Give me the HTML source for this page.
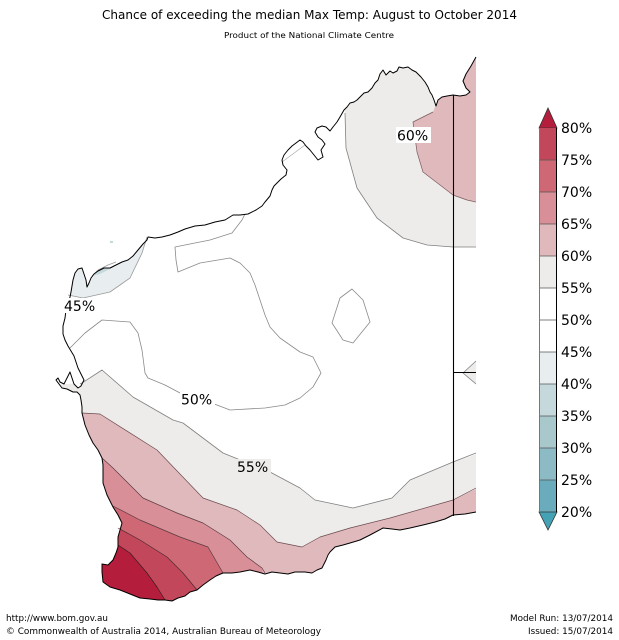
<!DOCTYPE html>
<html><head><meta charset="utf-8"><style>
html,body{margin:0;padding:0;background:#fff;}
svg{display:block;}
text{font-family:"DejaVu Sans","Liberation Sans",sans-serif;fill:#000;}
</style></head><body>
<svg width="619" height="640" viewBox="0 0 619 640" xmlns="http://www.w3.org/2000/svg">
<defs>
<clipPath id="land"><path d="M476,57 L471,66 L466,74 L463,81 L466,88 L470,92 L466,95 L460,96 L453,95 L447,96 L442,97 L438,100 L436,106 L434,100 L432,95 L430,92 L428,87 L425,82 L421,77 L416,72 L412,70 L408,67 L403,68 L399,67 L397,71 L393,73 L390,71 L386,75 L383,70 L380,74 L378,80 L375,83 L372,88 L368,92 L364,93 L360,97 L357,100 L354,102 L350,103 L347,107 L344,110 L340,117 L337,122 L333,127 L330,131 L326,127 L322,126 L317,128 L315,132 L318,137 L322,140 L325,144 L321,150 L323,157 L318,160 L314,155 L310,150 L306,146 L303,142 L300,140 L296,143 L292,146 L288,150 L284,155 L282,160 L283,165 L287,170 L286,175 L281,179 L277,183 L274,186 L272,190 L270,196 L265,202 L262,206 L256,210 L248,214 L240,215 L233,215 L225,220 L215,222 L205,225 L195,226 L185,229 L178,232 L170,235 L162,237 L155,238 L148,237 L147,240 L143,244 L138,250 L133,256 L128,260 L122,262 L116,265 L110,268 L104,268 L98,271 L94,274 L91,278 L89,283 L87,287 L86,280 L84,274 L82,268 L78,269 L75,273 L73,280 L72,286 L71,292 L70,297 L68,304 L66,310 L65,318 L63,326 L63,334 L65,340 L68,346 L71,351 L74,356 L76,362 L78,368 L81,374 L84,380 L81,386 L78,388 L74,384 L72,378 L70,372 L67,378 L64,384 L60,382 L58,378 L56,380 L62,388 L67,389 L73,392 L77,392 L80,395 L81,400 L82,407 L82,413 L85,425 L89,435 L93,443 L98,450 L102,458 L103,465 L103,475 L103,483 L107,495 L113,507 L118,515 L122,523 L120,530 L118,537 L118,547 L116,553 L113,560 L108,565 L102,564 L102,572 L103,582 L110,587 L120,590 L130,594 L140,598 L150,599 L158,600 L165,600 L172,601 L178,598 L185,596 L190,592 L197,590 L203,585 L210,580 L216,576 L223,573 L232,573 L240,572 L250,570 L258,572 L265,574 L272,572 L280,573 L288,574 L295,572 L305,572 L312,573 L317,570 L322,568 L326,560 L328,555 L330,552 L335,547 L343,545 L350,543 L360,540 L370,535 L383,528 L392,529 L400,530 L410,528 L423,525 L435,522 L445,519 L453,515 L465,514 L476,512 Z"/></clipPath>
</defs>

<!-- fills clipped to land -->
<g clip-path="url(#land)" stroke="none">
  <path fill="#eeecea" d="M345,40 L345,113 L346,148 L357,188 L377,218 L403,238 L427,245 L453,247 L480,247 L480,40 Z"/>
  <path fill="#e0b9bd" d="M438,40 L438,100 L433,112 L413,122 L417,152 L423,172 L440,185 L453,195 L467,200 L480,202 L480,40 Z"/>
  <path fill="#eeecea" d="M50,385 L82,383 L102,370 L133,397 L173,420 L183,423 L223,453 L270,472 L300,488 L315,500 L353,508 L392,498 L410,480 L453,462 L480,453 L480,620 L50,620 Z"/>
  <path fill="#eeecea" d="M463,373 L480,358 L480,388 Z"/>
  <path fill="#e0b9bd" d="M50,413 L82,413 L100,414 L157,450 L203,498 L237,510 L260,525 L277,542 L302,547 L320,537 L350,528 L390,518 L453,500 L480,487 L480,620 L50,620 Z"/>
  <path fill="#d88f97" d="M50,458 L102,458 L113,468 L143,498 L177,513 L203,523 L230,540 L247,557 L262,568 L270,620 L50,620 Z"/>
  <path fill="#cd6874" d="M50,506 L113,506 L140,520 L180,537 L208,547 L223,573 L230,620 L50,620 Z"/>
  <path fill="#c3475a" d="M50,528 L118,528 L140,540 L167,557 L183,573 L197,590 L200,620 L50,620 Z"/>
  <path fill="#b41e3c" d="M50,545 L118,545 L130,553 L147,573 L157,587 L165,600 L166,620 L50,620 Z"/>
  <path fill="#e8eef0" d="M50,250 L150,200 L147,237 L142,253 L130,278 L110,292 L83,298 L68,295 L50,295 Z"/>
  <path fill="#c5d9dc" d="M92,276 L98,270 L108,265 L116,262 L122,261 L112,268 L100,274 Z"/>
</g>

<!-- contour lines -->
<g fill="none" stroke-linejoin="round">
  <polyline stroke="#808080" stroke-width="0.8" points="345,113 346,148 357,188 377,218 403,238 427,245 453,247 476,247"/>
  <polyline stroke="#7a5a5e" stroke-width="0.7" points="433,112 413,122 417,152 423,172 440,185 453,195 467,200 476,202"/>
  <polyline stroke="#808080" stroke-width="0.8" points="80,384 82,383 102,370 133,397 173,420 183,423 223,453 270,472 300,488 315,500 353,508 392,498 410,480 453,462 476,453"/>
  <polyline stroke="#808080" stroke-width="0.8" points="476,361 463,373 476,384"/>
  <polyline stroke="#6a4a4e" stroke-width="0.7" points="82,413 100,414 157,450 203,498 237,510 260,525 277,542 302,547 320,537 350,528 390,518 453,500 476,488"/>
  <polyline stroke="#5a3a40" stroke-width="0.7" points="102,458 113,468 143,498 177,513 203,523 230,540 247,557 262,568 265,573"/>
  <polyline stroke="#5a3a40" stroke-width="0.7" points="113,506 140,520 180,537 208,547 223,573"/>
  <polyline stroke="#4a2a30" stroke-width="0.7" points="118,528 140,540 167,557 183,573 197,590"/>
  <polyline stroke="#3a1a20" stroke-width="0.7" points="118,545 130,553 147,573 157,587 165,600"/>
  <polyline stroke="#999" stroke-width="0.8" points="147,237 142,253 130,278 110,292 83,298 68,295"/>
  <polyline stroke="#999" stroke-width="0.7" points="92,276 98,270 108,265 116,262"/>
  <polyline stroke="#8a8a8a" stroke-width="0.8" points="245,214 242,220 232,233 210,240 175,247 176,260 178,272 200,263 230,258 240,263 250,273 255,285 260,300 265,315 270,327 280,338 300,352 313,357 321,373 313,387 300,398 285,405 265,408 230,410 217,405 180,393 165,385 148,378 145,373 142,350 138,333 130,322 102,320 85,333 70,348"/>
  <path stroke="#8a8a8a" stroke-width="0.8" d="M352,289 L363,300 L370,322 L353,343 L343,340 L332,323 L340,298 Z"/>
  <line x1="282" y1="162" x2="305" y2="145" stroke="#aaa" stroke-width="0.7"/>
</g>

<!-- coastline (open path, no right edge) -->
<path fill="none" stroke="#000" stroke-width="1" stroke-linejoin="round" d="M476,57 L471,66 L466,74 L463,81 L466,88 L470,92 L466,95 L460,96 L453,95 L447,96 L442,97 L438,100 L436,106 L434,100 L432,95 L430,92 L428,87 L425,82 L421,77 L416,72 L412,70 L408,67 L403,68 L399,67 L397,71 L393,73 L390,71 L386,75 L383,70 L380,74 L378,80 L375,83 L372,88 L368,92 L364,93 L360,97 L357,100 L354,102 L350,103 L347,107 L344,110 L340,117 L337,122 L333,127 L330,131 L326,127 L322,126 L317,128 L315,132 L318,137 L322,140 L325,144 L321,150 L323,157 L318,160 L314,155 L310,150 L306,146 L303,142 L300,140 L296,143 L292,146 L288,150 L284,155 L282,160 L283,165 L287,170 L286,175 L281,179 L277,183 L274,186 L272,190 L270,196 L265,202 L262,206 L256,210 L248,214 L240,215 L233,215 L225,220 L215,222 L205,225 L195,226 L185,229 L178,232 L170,235 L162,237 L155,238 L148,237 L147,240 L143,244 L138,250 L133,256 L128,260 L122,262 L116,265 L110,268 L104,268 L98,271 L94,274 L91,278 L89,283 L87,287 L86,280 L84,274 L82,268 L78,269 L75,273 L73,280 L72,286 L71,292 L70,297 L68,304 L66,310 L65,318 L63,326 L63,334 L65,340 L68,346 L71,351 L74,356 L76,362 L78,368 L81,374 L84,380 L81,386 L78,388 L74,384 L72,378 L70,372 L67,378 L64,384 L60,382 L58,378 L56,380 L62,388 L67,389 L73,392 L77,392 L80,395 L81,400 L82,407 L82,413 L85,425 L89,435 L93,443 L98,450 L102,458 L103,465 L103,475 L103,483 L107,495 L113,507 L118,515 L122,523 L120,530 L118,537 L118,547 L116,553 L113,560 L108,565 L102,564 L102,572 L103,582 L110,587 L120,590 L130,594 L140,598 L150,599 L158,600 L165,600 L172,601 L178,598 L185,596 L190,592 L197,590 L203,585 L210,580 L216,576 L223,573 L232,573 L240,572 L250,570 L258,572 L265,574 L272,572 L280,573 L288,574 L295,572 L305,572 L312,573 L317,570 L322,568 L326,560 L328,555 L330,552 L335,547 L343,545 L350,543 L360,540 L370,535 L383,528 L392,529 L400,530 L410,528 L423,525 L435,522 L445,519 L453,515 L465,514 L476,512"/>
<rect x="110" y="241" width="3" height="2" fill="#c5d9dc"/>
<!-- state borders -->
<line x1="453.5" y1="95" x2="453.5" y2="516" stroke="#000" stroke-width="1.1"/>
<line x1="453" y1="372.5" x2="476" y2="372.5" stroke="#000" stroke-width="1.1"/>

<!-- contour labels -->
<rect x="396" y="127" width="35" height="16" fill="#fff"/>
<text x="397" y="140.5" font-size="14">60%</text>
<rect x="63" y="298" width="35" height="15" fill="#fff"/>
<text x="64" y="311" font-size="14">45%</text>
<rect x="180" y="391" width="35" height="16" fill="#fff"/>
<text x="181" y="404.5" font-size="14">50%</text>
<rect x="236" y="459" width="35" height="15" fill="#eeecea"/>
<text x="237" y="472" font-size="14">55%</text>

<!-- colorbar -->
<g>
  <path d="M539,128 L548,108 L557,128 Z" fill="#b41e3c" stroke="#333" stroke-width="0.8"/>
  <rect x="539" y="128" width="18" height="32" fill="#c3475a"/>
  <rect x="539" y="160" width="18" height="32" fill="#cd6874"/>
  <rect x="539" y="192" width="18" height="32" fill="#d88f97"/>
  <rect x="539" y="224" width="18" height="32" fill="#e0b9bd"/>
  <rect x="539" y="256" width="18" height="32" fill="#eeecea"/>
  <rect x="539" y="288" width="18" height="32" fill="#ffffff"/>
  <rect x="539" y="320" width="18" height="32" fill="#ffffff"/>
  <rect x="539" y="352" width="18" height="32" fill="#e8eef0"/>
  <rect x="539" y="384" width="18" height="32" fill="#c5d9dc"/>
  <rect x="539" y="416" width="18" height="32" fill="#a8c8cc"/>
  <rect x="539" y="448" width="18" height="32" fill="#8cbac5"/>
  <rect x="539" y="480" width="18" height="32" fill="#6aacbc"/>
  <path d="M539,512 L548,530 L557,512 Z" fill="#45a2b4" stroke="#333" stroke-width="0.8"/>
  <g stroke="#555" stroke-width="0.8">
    <line x1="539" y1="160" x2="557" y2="160"/><line x1="539" y1="192" x2="557" y2="192"/>
    <line x1="539" y1="224" x2="557" y2="224"/><line x1="539" y1="256" x2="557" y2="256"/>
    <line x1="539" y1="288" x2="557" y2="288"/><line x1="539" y1="320" x2="557" y2="320"/>
    <line x1="539" y1="352" x2="557" y2="352"/><line x1="539" y1="384" x2="557" y2="384"/>
    <line x1="539" y1="416" x2="557" y2="416"/><line x1="539" y1="448" x2="557" y2="448"/>
    <line x1="539" y1="480" x2="557" y2="480"/>
  </g>
  <line x1="539.5" y1="128" x2="539.5" y2="512" stroke="#777" stroke-width="1"/>
  <line x1="556.5" y1="128" x2="556.5" y2="512" stroke="#000" stroke-width="1"/>
  <g font-size="14">
    <text x="561" y="133">80%</text>
    <text x="561" y="165">75%</text>
    <text x="561" y="197">70%</text>
    <text x="561" y="229">65%</text>
    <text x="561" y="261">60%</text>
    <text x="561" y="293">55%</text>
    <text x="561" y="325">50%</text>
    <text x="561" y="357">45%</text>
    <text x="561" y="389">40%</text>
    <text x="561" y="421">35%</text>
    <text x="561" y="453">30%</text>
    <text x="561" y="485">25%</text>
    <text x="561" y="517">20%</text>
  </g>
</g>

<!-- titles -->
<text x="309.5" y="19" font-size="12" text-anchor="middle" textLength="415" lengthAdjust="spacingAndGlyphs">Chance of exceeding the median Max Temp: August to October 2014</text>
<text x="309" y="38" font-size="8" text-anchor="middle" textLength="170" lengthAdjust="spacingAndGlyphs">Product of the National Climate Centre</text>

<!-- footer -->
<text x="6" y="621" font-size="8.5" textLength="102" lengthAdjust="spacingAndGlyphs">http://www.bom.gov.au</text>
<text x="6" y="634" font-size="8.5" textLength="315" lengthAdjust="spacingAndGlyphs">©  Commonwealth of Australia 2014, Australian Bureau of Meteorology</text>
<text x="613" y="621" font-size="8.5" text-anchor="end" textLength="103" lengthAdjust="spacingAndGlyphs">Model Run: 13/07/2014</text>
<text x="613" y="634" font-size="8.5" text-anchor="end" textLength="85" lengthAdjust="spacingAndGlyphs">Issued: 15/07/2014</text>
</svg>
</body></html>
